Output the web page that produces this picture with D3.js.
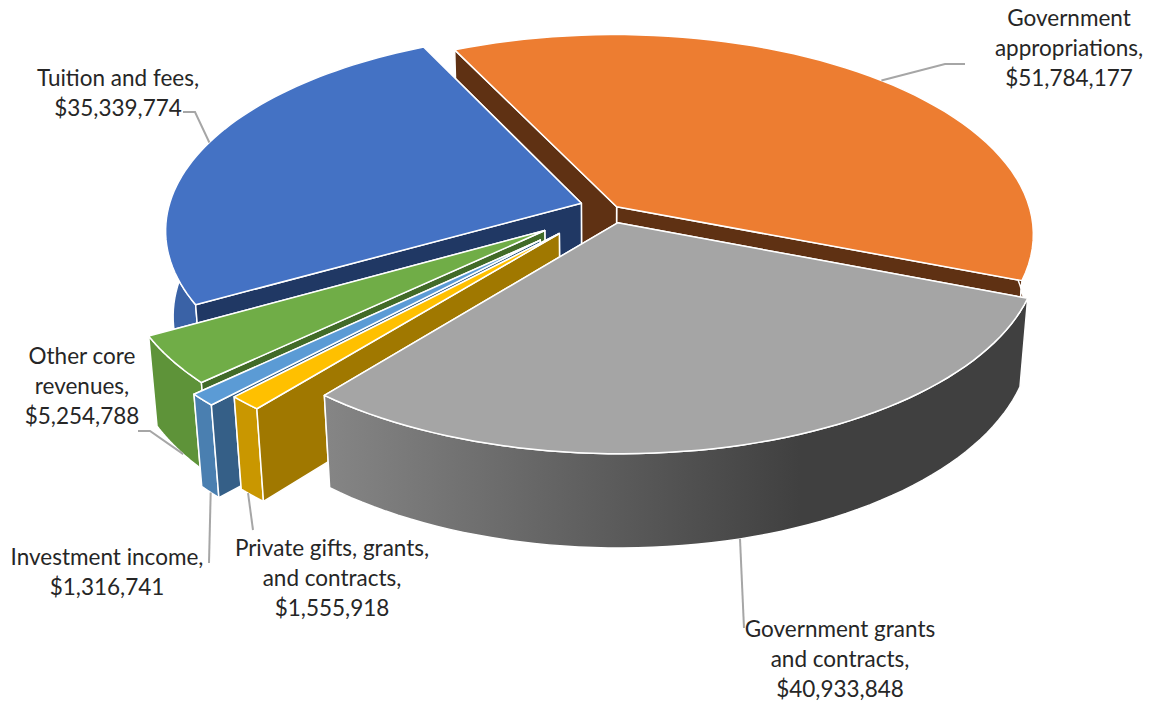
<!DOCTYPE html>
<html>
<head>
<meta charset="utf-8">
<script src="https://cdn.jsdelivr.net/npm/d3@7"></script>
<style>
html, body { margin: 0; padding: 0; background: #fff; }
svg { display: block; }
text { font-family: Lato, "Open Sans", sans-serif; font-size: 22.5px; fill: #262626; }
</style>
</head>
<body>
<div id="chart"></div>
<script>
// values
var categories = ['Government appropriations', 'Government grants and contracts', 'Private gifts, grants, and contracts', 'Investment income', 'Other core revenues', 'Tuition and fees'];
var revenues = [51784177, 40933848, 1555918, 1316741, 5254788, 35339774];
var labelLines = [
	['Government', 'appropriations,', '$51,784,177'],
	['Government grants', 'and contracts,', '$40,933,848'],
	['Private gifts, grants,', 'and contracts,', '$1,555,918'],
	['Investment income,', '$1,316,741'],
	['Other core', 'revenues,', '$5,254,788'],
	['Tuition and fees,', '$35,339,774']
];
var topColors = ['#ED7D31', '#A5A5A5', '#FFC000', '#5B9BD5', '#70AD47', '#4472C4'];
var wallColors = ['#5F3113', '#424242', '#A07800', '#355F87', '#426B28', '#203864'];
var rimColors = ['#5F3113', '#7F7F7F', '#C99700', '#4A7FB0', '#5E9339', '#3A62A6'];

var width = 1152, height = 703;

// camera for the tilted pie
var cam = { cx: 601, cy: 214, F: 2708, d: 6.53, tilt: 28.4 * Math.PI / 180, H: 0.238 };
var explode = [0.05, 0.05, 0.15, 0.21, 0.166, 0.05];
// small corrections on top of the explosion, plane units
var nudgeX = [0.004, 0.027, 0, 0.005, 0, 0];
var nudgeY = [0, -0.004, -0.015, -0.018, -0.015, -0.04];
var firstAngle = -25.8 * Math.PI / 180;

function project(x, y, z){
	var c = Math.cos(cam.tilt), s = Math.sin(cam.tilt);
	var w = cam.d - y * c - z * s;
	return [cam.cx + cam.F * x / w, cam.cy + cam.F * (y * s - z * c) / w];
}

var pie = d3.pie().sort(null).startAngle(firstAngle).endAngle(firstAngle + 2 * Math.PI);
var slices = pie(revenues);
var line = d3.line();

var svg = d3.select('#chart').append('svg')
	.attr('width', width)
	.attr('height', height);

// gray rim fades from left to right
var grad = svg.append('defs').append('linearGradient')
	.attr('id', 'grayRim')
	.attr('gradientUnits', 'userSpaceOnUse')
	.attr('x1', 328).attr('x2', 800).attr('y1', 0).attr('y2', 0);
grad.append('stop').attr('offset', 0).attr('stop-color', '#858585');
grad.append('stop').attr('offset', 1).attr('stop-color', '#404040');

function offset(d, i){
	var mid = (d.startAngle + d.endAngle) / 2;
	return [Math.sin(mid) * explode[i] + nudgeX[i], -Math.cos(mid) * explode[i] + nudgeY[i]];
}
function rimPoints(d, i, z){
	var o = offset(d, i);
	return d3.range(0, 61).map(function(k){
		var a = d.startAngle + (d.endAngle - d.startAngle) * k / 60;
		return project(o[0] + Math.sin(a), o[1] - Math.cos(a), z);
	});
}
function apex(d, i, z){
	var o = offset(d, i);
	return project(o[0], o[1], z);
}

// back to front so nearer slices cover the others
var order = [0, 5, 4, 3, 2, 1];
var groups = svg.selectAll('g.slice')
	.data(order)
	.enter()
	.append('g')
	.attr('class', 'slice')
	.attr('stroke', '#fff')
	.attr('stroke-width', 1.5)
	.attr('stroke-linejoin', 'round');

groups.each(function(i){
	var g = d3.select(this), d = slices[i];
	var top = rimPoints(d, i, 0), bottom = rimPoints(d, i, -cam.H);
	var a0 = apex(d, i, 0), a1 = apex(d, i, -cam.H);

	function endFace(){
		g.append('path')
			.attr('d', line([a0, top[60], bottom[60], a1]) + 'Z')
			.attr('fill', wallColors[i]);
	}
	function startFace(){
		g.append('path')
			.attr('d', line([a0, top[0], bottom[0], a1]) + 'Z')
			.attr('fill', wallColors[i]);
	}
	function rim(){
		g.append('path')
			.attr('d', line(top.concat(bottom.slice().reverse())) + 'Z')
			.attr('fill', i === 1 ? 'url(#grayRim)' : rimColors[i]);
	}

	// the gray slice faces us, both its cut faces are behind its rim
	if(i === 1){
		endFace();
		startFace();
		rim();
	}else{
		endFace();
		rim();
		startFace();
	}
	g.append('path')
		.attr('d', line([a0].concat(top)) + 'Z')
		.attr('fill', topColors[i]);
});

// leader lines: slice index, where on the rim (0-1), how far down the side (0-1), then elbows
var leaders = [
	{ i: 0, at: 0.52, down: 0, elbows: [[945, 64], [965, 64]] },
	{ i: 1, at: 0.50, down: 1, elbows: [[744, 628]] },
	{ i: 2, at: 0.69, down: 1, elbows: [[253, 530]] },
	{ i: 3, at: 0.47, down: 1, elbows: [[209, 563]] },
	{ i: 4, at: 0.43, down: 1, elbows: [[150, 431], [138, 431]] },
	{ i: 5, at: 0.52, down: 0, elbows: [[195, 112], [183, 112]] }
];
svg.selectAll('path.leader')
	.data(leaders)
	.enter()
	.append('path')
	.attr('class', 'leader')
	.attr('fill', 'none')
	.attr('stroke', '#A6A6A6')
	.attr('stroke-width', 2)
	.attr('d', function(l){
		var d = slices[l.i];
		var k = Math.round(l.at * 60);
		var t = rimPoints(d, l.i, -cam.H * l.down)[k];
		return line([t].concat(l.elbows));
	});

// label centres
var labelX = [1069, 840, 332, 107, 82, 118];
var labelY = [17, 628, 547, 556, 355, 77];
var lineStep = 30;

var labels = svg.selectAll('text.label')
	.data(labelLines)
	.enter()
	.append('text')
	.attr('class', 'label')
	.attr('text-anchor', 'middle')
	.attr('dominant-baseline', 'central')
	.attr('transform', function(d, i){ return 'translate(' + labelX[i] + ',' + labelY[i] + ')'; });

labels.selectAll('tspan')
	.data(function(d){ return d; })
	.enter()
	.append('tspan')
	.attr('x', 0)
	.attr('y', function(d, j){ return j * lineStep; })
	.text(function(d){ return d; });
</script>
</body>
</html>
